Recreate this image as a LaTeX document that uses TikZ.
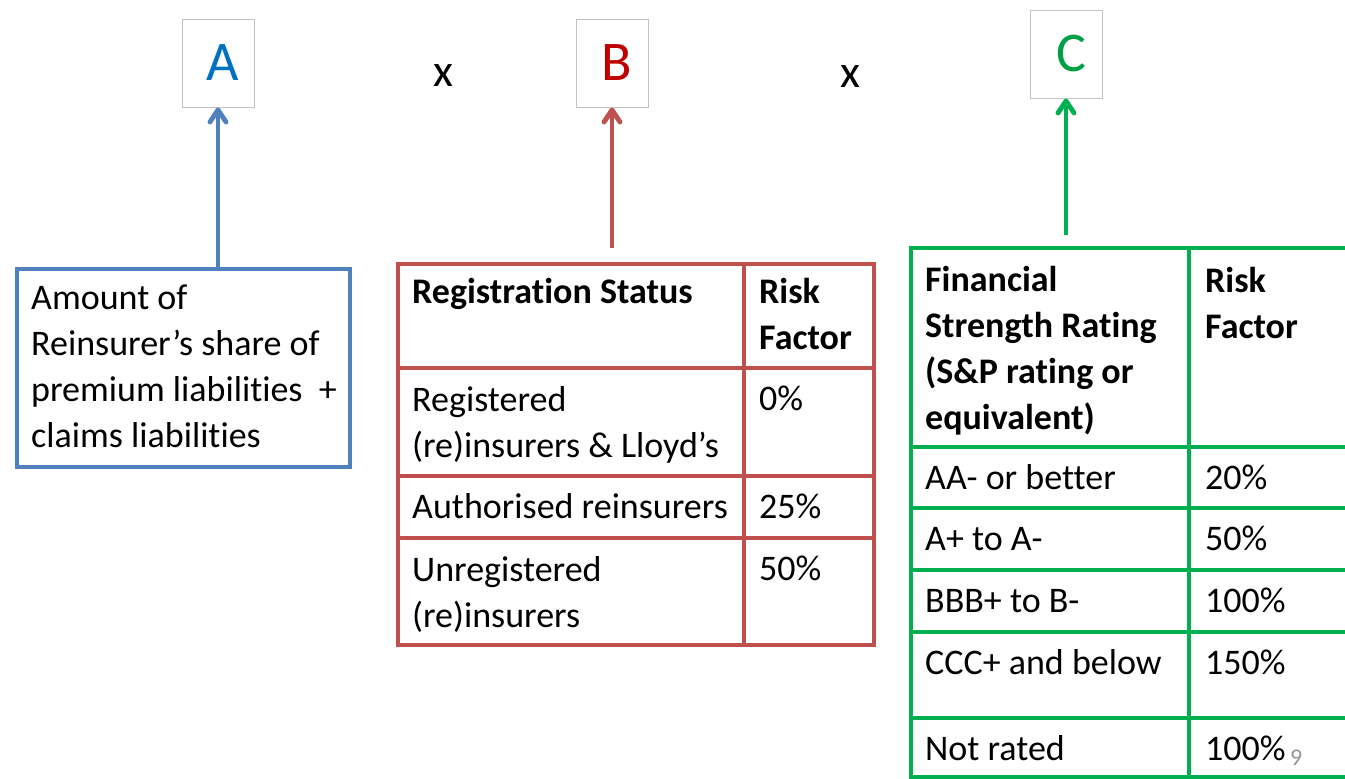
\documentclass[tikz,border=0pt]{standalone}
\usepackage{fontspec}
\setmainfont{Carlito}[Ligatures={TeX,NoCommon}]
\usetikzlibrary{arrows.meta, positioning}

\definecolor{blueline}{RGB}{79,129,189}
\definecolor{redline}{RGB}{192,80,77}
\definecolor{greenline}{RGB}{0,176,80}
\definecolor{letA}{RGB}{0,112,192}
\definecolor{letB}{RGB}{192,0,0}
\definecolor{letC}{RGB}{0,160,70}
\definecolor{boxgray}{RGB}{195,195,195}
\definecolor{pagegray}{RGB}{150,150,150}

\begin{document}
\begin{tikzpicture}[x=1pt, y=-1pt,
  letterbox/.style={draw=boxgray, line width=1pt, minimum width=72, minimum height=88,
    font=\fontsize{56}{56}\selectfont},
  times/.style={font=\fontsize{46}{46}\selectfont},
  tab/.style={line width=3.5pt},
  txt/.style={anchor=base west, inner sep=0, align=left, font=\fontsize{36}{46}\selectfont},
  head/.style={txt, font=\fontsize{36}{46}\selectfont\bfseries},
  arr/.style={line width=3.5pt,
    -{Straight Barb[length=12pt, width=16pt, line width=0pt 1.4, round]}}]

  \useasboundingbox (0,0) rectangle (1345,779);
  \clip (0,0) rectangle (1345,779);

  % factors
  \node[letterbox, text=letA] (a) at (218,63) {\kern10pt A};
  \node[times] (times1) at (443,76) {x};
  \node[letterbox, text=letB] (b) at (612,63) {\kern10pt B};
  \node[times] (times2) at (850,77) {x};
  \node[letterbox, text=letC] (c) at (1066,54) {\kern10pt C};

  % amount (multi-line texts sit on their last baseline)
  \node[draw=blueline, line width=3.5pt, anchor=north west, minimum width=333,
    minimum height=198] (amt) at (15,267) {};
  \node[txt] (amttxt) at (31,447)
    {Amount of\\Reinsurer’s share of\\premium liabilities\ \ +\\claims liabilities};
  \draw[arr, blueline] (a.south |- amt.north) -- (a.south);

  % registration status
  \draw[tab, redline] (398,264) rectangle (874,645);
  \draw[tab, redline] (744,264) -- (744,645);
  \draw[tab, redline] (398,368) -- (874,368) (398,476) -- (874,476) (398,538) -- (874,538);
  \node[head] (rhead) at (412,303) {Registration Status};
  \node[head] (rfhead) at (759,349) {Risk\\Factor};
  \node[txt] (rreg) at (412,457) {Registered\\(re)insurers \& Lloyd’s};
  \node[txt] (rregf) at (759,410) {0\%};
  \node[txt] (rauth) at (412,518) {Authorised reinsurers};
  \node[txt] (rauthf) at (759,518) {25\%};
  \node[txt] (runreg) at (412,627) {Unregistered\\(re)insurers};
  \node[txt] (runregf) at (759,580) {50\%};
  \coordinate (bfoot) at (612,248);
  \draw[arr, redline] (bfoot) -- (b.south);

  % financial strength rating
  \draw[tab, greenline] (911,248) rectangle (1400,777);
  \draw[tab, greenline] (1189,248) -- (1189,777);
  \draw[tab, greenline] (911,447) -- (1400,447) (911,508) -- (1400,508)
    (911,570) -- (1400,570) (911,632) -- (1400,632) (911,718) -- (1400,718);
  \node[head] (ghead) at (925,429) {Financial\\Strength Rating\\(S\&P rating or\\equivalent)};
  \node[head] (gfhead) at (1205,338) {Risk\\Factor};
  \node[txt] (gaa) at (925,489) {AA- or better};
  \node[txt] (gaaf) at (1205,489) {20\%};
  \node[txt] (ga) at (925,550) {A+ to A-};
  \node[txt] (gaf) at (1205,550) {50\%};
  \node[txt] (gbbb) at (925,612) {BBB+ to B-};
  \node[txt] (gbbbf) at (1205,612) {100\%};
  \node[txt] (gccc) at (925,674) {CCC+ and below};
  \node[txt] (gcccf) at (1205,674) {150\%};
  \node[txt] (gnr) at (925,760) {Not rated};
  \node[txt] (gnrf) at (1205,760) {100\%};
  \coordinate (cfoot) at (1066,235);
  \draw[arr, greenline] (cfoot) -- (c.south);

  \node[anchor=base west, inner sep=0, text=pagegray, font=\fontsize{24}{24}\selectfont]
    (pageno) at (1290,765) {9};
\end{tikzpicture}
\end{document}
